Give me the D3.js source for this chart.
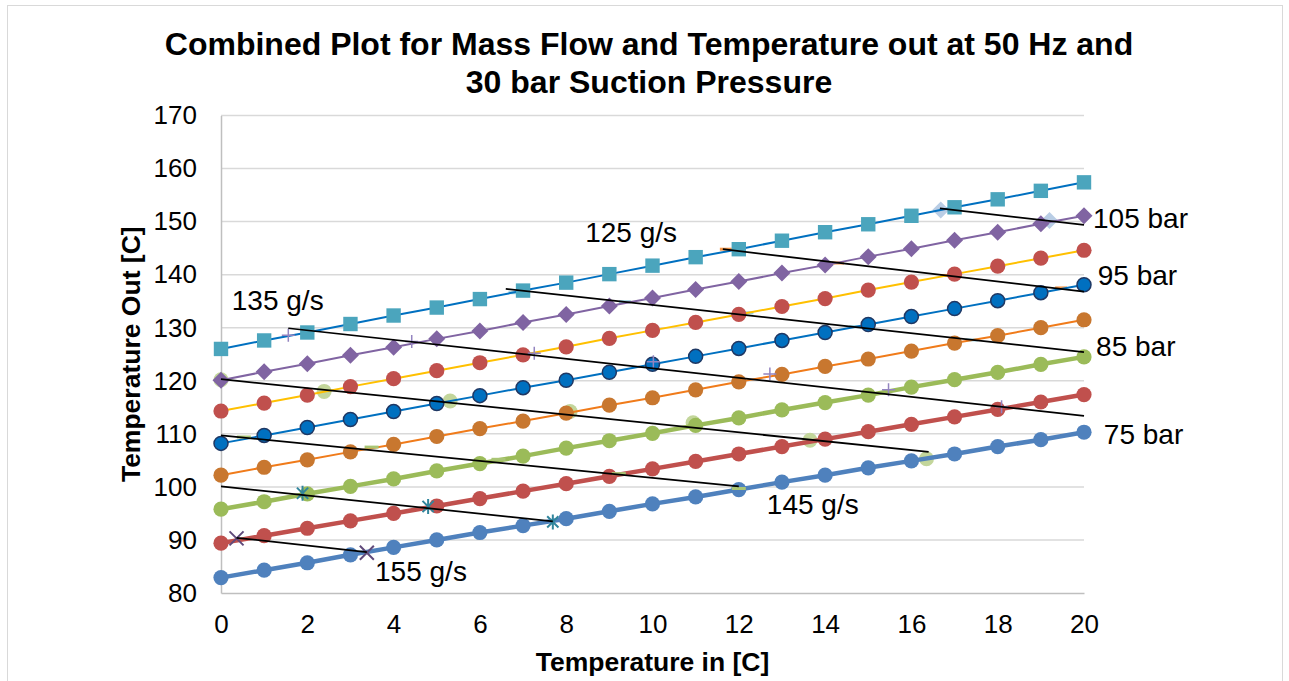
<!DOCTYPE html>
<html><head><meta charset="utf-8">
<script src="https://cdn.jsdelivr.net/npm/d3@7"></script>
<style>
body{margin:0;background:#fff;}
svg{display:block;font-family:"Liberation Sans",Arial,sans-serif;}
</style></head><body>
<svg id="chart" width="1289" height="681"></svg>
<script>
// ---------- DATA ----------
const tempIn = [0,1,2,3,4,5,6,7,8,9,10,11,12,13,14,15,16,17,18,19,20];
const yTicks = [80,90,100,110,120,130,140,150,160,170];
const xTicks = [0,2,4,6,8,10,12,14,16,18,20];

// Temperature out per discharge pressure (bar)
const p75  = [82.9,84.3,85.7,87.2,88.6,90.0,91.4,92.7,94.0,95.4,96.8,98.1,99.5,100.9,102.2,103.6,104.9,106.2,107.6,108.9,110.3];
const p80  = [89.4,90.8,92.2,93.6,95.0,96.4,97.8,99.2,100.6,102.0,103.4,104.8,106.2,107.6,109.0,110.4,111.8,113.2,114.6,116.0,117.4];
const p85  = [95.8,97.2,98.7,100.1,101.5,103.0,104.4,105.8,107.3,108.7,110.1,111.6,113.0,114.5,115.9,117.3,118.8,120.2,121.6,123.1,124.5];
const p90  = [102.2,103.7,105.1,106.6,108.0,109.5,111.0,112.4,113.9,115.4,116.8,118.3,119.8,121.2,122.7,124.1,125.6,127.1,128.5,130.0,131.5];
const p95  = [108.2,109.7,111.2,112.7,114.2,115.7,117.2,118.7,120.1,121.6,123.1,124.6,126.1,127.6,129.1,130.6,132.1,133.6,135.1,136.6,138.1];
const p100 = [114.3,115.8,117.3,118.9,120.4,121.9,123.4,124.9,126.4,128.0,129.5,131.0,132.5,134.0,135.5,137.1,138.6,140.1,141.6,143.1,144.6];
const p105 = [120.1,121.7,123.2,124.8,126.3,127.9,129.4,131.0,132.5,134.1,135.6,137.2,138.7,140.3,141.8,143.4,144.9,146.5,148.0,149.6,151.1];
const p110 = [126.0,127.6,129.1,130.7,132.3,133.8,135.4,137.0,138.5,140.1,141.7,143.3,144.8,146.4,148.0,149.5,151.1,152.7,154.2,155.8,157.4];

// Constant mass-flow points (temperature in, temperature out)
const mf120x = [16.68,19.2];
const mf120y = [152.2,150.2];
const mf125x = [11.7,14.3,16.81,19.47];
const mf125y = [144.8,142.2,139.85,137.5];
const mf130x = [6.8,9.36,12.2,14.7,17.4,20.0];
const mf130y = [136.6,134.9,132.8,130.2,127.7,124.9];
const mf135x = [1.56,4.42,7.26,10.02,12.72,15.47,18.09];
const mf135y = [128.6,127.4,125.2,123.6,121.3,118.3,115.1];
const mf140x = [0,2.39,5.31,8.09,10.94,13.65,16.35];
const mf140y = [120.2,118.0,116.2,114.2,112.1,108.8,105.3];
const mf145x = [0.53,3.49,6.43,9.22,12.0];
const mf145y = [109.4,107.5,105.2,102.5,99.7];
const mf150x = [1.89,4.8,7.69];
const mf150y = [98.8,96.3,93.4];
const mf155x = [0.36,3.38];
const mf155y = [90.3,87.6];

// Trend lines for mass flows: [xStart, yStart, xEnd, yEnd]
const trend120 = [16.66,152.5,20,149.4];
const trend125 = [11.63,144.8,20,136.8];
const trend130 = [6.6,137.3,20,125.4];
const trend135 = [1.56,129.9,20,113.4];
const trend140 = [0,120.3,16.4,106.6];
const trend145 = [0,109.7,12,100.1];
const trend150 = [0,100.1,7.69,93.5];
const trend155 = [0.36,90.4,3.38,87.7];

const pressureLabels = ["105 bar","95 bar","85 bar","75 bar"];
const flowLabels = ["125 g/s","135 g/s","145 g/s","155 g/s"];
const titleLines = ["Combined Plot for Mass Flow and Temperature out at 50 Hz and","30 bar Suction Pressure"];
const xTitle = "Temperature in [C]";
const yTitle = "Temperature Out [C]";

// ---------- LAYOUT / STYLE ----------
const plot = {left:221, right:1084, top:115.5, bottom:593};
const x = d3.scaleLinear().domain([0,20]).range([plot.left, plot.right]);
const y = d3.scaleLinear().domain([80,170]).range([plot.bottom, plot.top]);

const svg = d3.select("#chart");
svg.append("rect").attr("x",7.5).attr("y",5.5).attr("width",1275).attr("height",700)
  .attr("fill","#fff").attr("stroke","#D9D9D9").attr("stroke-width",1);

// gridlines
svg.append("g").selectAll("line").data(yTicks.filter(v=>v>80)).join("line")
  .attr("x1",plot.left).attr("x2",plot.right)
  .attr("y1",d=>y(d)).attr("y2",d=>y(d))
  .attr("stroke","#D9D9D9").attr("stroke-width",1.5);

// axes
const yAxis = svg.append("g").attr("transform",`translate(${plot.left},0)`)
  .call(d3.axisLeft(y).tickValues(yTicks).tickSize(0).tickPadding(24).tickFormat(d3.format("d")));
const xAxis = svg.append("g").attr("transform",`translate(0,${plot.bottom})`)
  .call(d3.axisBottom(x).tickValues(xTicks).tickSize(0).tickPadding(22).tickFormat(d3.format("d")));
[yAxis,xAxis].forEach(g=>{
  g.select(".domain").attr("stroke","#BFBFBF").attr("stroke-width",1.5);
  g.selectAll("text").attr("font-size",26).attr("fill","#000")
    .attr("font-family","'Liberation Sans',Arial,sans-serif");
});

// symbol path generators
const sym = {
  circle:(s)=>d3.symbol(d3.symbolCircle, Math.PI*s*s)(),
  square:(s)=>`M${-s},${-s}H${s}V${s}H${-s}Z`,
  diamond:(s)=>`M0,${-s}L${s},0L0,${s}L${-s},0Z`,
  plus:(s)=>`M${-s},0H${s}M0,${-s}V${s}`,
  cross:(s)=>`M${-s},${-s}L${s},${s}M${-s},${s}L${s},${-s}`,
  star:(s)=>`M0,${-s}V${s}M${-s*0.75},${-s*0.75}L${s*0.75},${s*0.75}M${-s*0.75},${s*0.75}L${s*0.75},${-s*0.75}`,
  dash:(s)=>`M${-s},0H${s}`
};

function drawMarkers(g, xs, ys, shape, size, fill, stroke, sw){
  g.append("g").selectAll("path").data(xs.map((v,i)=>[v,ys[i]])).join("path")
    .attr("transform",d=>`translate(${x(d[0])},${y(d[1])})`)
    .attr("d",sym[shape](size))
    .attr("fill",fill).attr("stroke",stroke).attr("stroke-width",sw);
}

// mass-flow markers drawn beneath the pressure curves
const under = svg.append("g");
drawMarkers(under, mf120x, mf120y, "diamond", 8.5, "#B9CDE5", "none", 0);
drawMarkers(under, mf125x, mf125y, "dash", 6, "none", "#F79646", 3);
drawMarkers(under, mf130x, mf130y, "dash", 6, "none", "#93CDDD", 3);
drawMarkers(under, mf140x, mf140y, "circle", 7.5, "#C3D69B", "none", 0);

// pressure series
const series = [
  {v:p75,  line:"#4F81BD", lw:4.5, shape:"circle", size:7.6, fill:"#4F81BD", stroke:"none", sw:0},
  {v:p80,  line:"#C0504D", lw:4.5, shape:"circle", size:7.6, fill:"#C0504D", stroke:"none", sw:0},
  {v:p85,  line:"#9BBB59", lw:4.5, shape:"circle", size:7.6, fill:"#9BBB59", stroke:"none", sw:0},
  {v:p90,  line:"#F07B1A", lw:2,   shape:"circle", size:7.6, fill:"#C8772F", stroke:"none", sw:0},
  {v:p95,  line:"#0070C0", lw:2,   shape:"circle", size:7,   fill:"#0070C0", stroke:"#1F3864", sw:1.5},
  {v:p100, line:"#FFC000", lw:2,   shape:"circle", size:7.6, fill:"#C0504D", stroke:"none", sw:0},
  {v:p105, line:"#8064A2", lw:2,   shape:"diamond",size:8.5, fill:"#8064A2", stroke:"none", sw:0},
  {v:p110, line:"#0070C0", lw:2,   shape:"square", size:7.2, fill:"#4BA5BD", stroke:"none", sw:0}
];
const lineGen = d3.line().x((d,i)=>x(tempIn[i])).y(d=>y(d));
series.forEach(s=>{
  const g = svg.append("g");
  g.append("path").attr("d",lineGen(s.v)).attr("fill","none")
    .attr("stroke",s.line).attr("stroke-width",s.lw).attr("stroke-linejoin","round");
  drawMarkers(g, tempIn, s.v, s.shape, s.size, s.fill, s.stroke, s.sw);
});

// mass-flow stroke markers (above)
const over = svg.append("g");
drawMarkers(over, mf135x, mf135y, "plus", 6.5, "none", "#9384C0", 1.5);
drawMarkers(over, mf145x, mf145y, "dash", 7, "none", "#A9C574", 3);
drawMarkers(over, mf150x, mf150y, "star", 7.5, "none", "#31859C", 2);
drawMarkers(over, mf155x, mf155y, "cross", 7, "none", "#604A7B", 2);

// trend lines
const trends = [trend120,trend125,trend130,trend135,trend140,trend145,trend150,trend155];
svg.append("g").selectAll("line").data(trends).join("line")
  .attr("x1",d=>x(d[0])).attr("y1",d=>y(d[1]))
  .attr("x2",d=>x(d[2])).attr("y2",d=>y(d[3]))
  .attr("stroke","#000").attr("stroke-width",1.75);

// annotations (anchor positions in data units)
const pressAnchor = [[20.21,150.5],[20.32,139.75],[20.28,126.4],[20.46,109.8]];
const flowAnchor  = [[8.44,148.0],[0.25,135.2],[12.65,96.6],[3.57,84.0]];
const ann = svg.append("g").attr("font-size",28).attr("fill","#000");
pressureLabels.forEach((t,i)=>ann.append("text").attr("x",x(pressAnchor[i][0])).attr("y",y(pressAnchor[i][1]))
  .attr("dominant-baseline","central").text(t));
flowLabels.forEach((t,i)=>ann.append("text").attr("x",x(flowAnchor[i][0])).attr("y",y(flowAnchor[i][1]))
  .attr("dominant-baseline","central").text(t));

// titles
svg.append("g").selectAll("text").data(titleLines).join("text")
  .attr("x",649).attr("y",(d,i)=>55+i*38).attr("text-anchor","middle")
  .attr("font-size",32).attr("font-weight","bold").text(d=>d);
svg.append("text").attr("x",(plot.left+plot.right)/2).attr("y",671).attr("text-anchor","middle")
  .attr("font-size",26.5).attr("font-weight","bold").text(xTitle);
svg.append("text").attr("transform",`translate(140,${(plot.top+plot.bottom)/2}) rotate(-90)`)
  .attr("text-anchor","middle").attr("font-size",26.5).attr("font-weight","bold").text(yTitle);
</script>
</body></html>
